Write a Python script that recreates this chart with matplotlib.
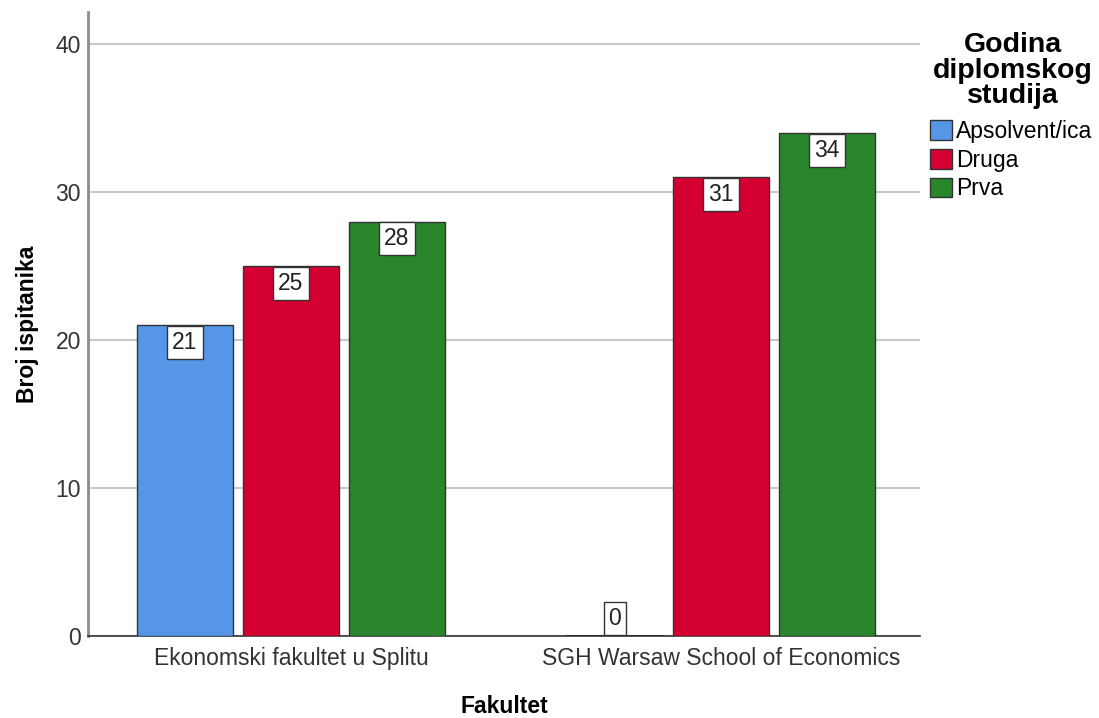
import numpy as np
import matplotlib
matplotlib.use("Agg")
import matplotlib.pyplot as plt

# data
fakulteti = ["Ekonomski fakultet u Splitu", "SGH Warsaw School of Economics"]
godine = ["Apsolvent/ica", "Druga", "Prva"]
apsolvent = [21, 0]
druga = [25, 31]
prva = [28, 34]
boje = ["#5596E6", "#D50032", "#2A862A"]
yticks = [0, 10, 20, 30, 40]
naslov = ["Godina", "diplomskog", "studija"]

plt.rcParams['font.family'] = ['Liberation Sans', 'DejaVu Sans']

W, H = 1099, 718
fig = plt.figure(figsize=(W / 100, H / 100), dpi=100)
ax = fig.add_axes([88 / W, 1 - 636 / H, (920 - 88) / W, (636 - 12) / H])

x = np.arange(len(fakulteti))
step = 0.2465
width = 0.2233
series = [apsolvent, druga, prva]
box = dict(boxstyle="square,pad=0.22", fc="white", ec="#333333", lw=1.0)

for i, (vals, name, c) in enumerate(zip(series, godine, boje)):
    pos = x + (i - 1) * step
    ax.bar(pos, vals, width, color=c, edgecolor="#333333", linewidth=1.0,
           label=name, zorder=3)
    for px, v in zip(pos, vals):
        if v > 0:
            ax.annotate(str(v), (px, v), xytext=(0, -4.2), textcoords="offset points",
                        ha="center", va="top", fontsize=16.5, color="#222222",
                        zorder=5, bbox=box)
        else:
            # empty category: just a flat line on the baseline
            ax.plot([px - width / 2, px + width / 2], [0, 0], color="#222222",
                    lw=1.2, zorder=4)
            ax.annotate(str(v), (px, v), xytext=(0, 4.2), textcoords="offset points",
                        ha="center", va="bottom", fontsize=16.5, color="#222222",
                        zorder=5, bbox=box)

ax.set_xlim(-0.472, 1.463)
ax.set_ylim(0, 42.16)
ax.set_yticks(yticks)
ax.set_xticks(x)
ax.set_xticklabels(fakulteti)
ax.tick_params(axis="both", length=0, labelsize=16.5, labelcolor="#333333")
ax.tick_params(axis="y", pad=5)
ax.tick_params(axis="x", pad=8)

ax.grid(axis="y", color="#c8c8c8", lw=1.5, zorder=0)
ax.set_axisbelow(True)
for s in ["top", "right"]:
    ax.spines[s].set_visible(False)
ax.spines["left"].set_color("#8c8c8c")
ax.spines["left"].set_linewidth(2)
ax.spines["bottom"].set_color("#333333")
ax.spines["bottom"].set_linewidth(1.2)

ax.set_ylabel("Broj ispitanika", fontsize=16.5, fontweight="bold", labelpad=12)
ax.set_xlabel("Fakultet", fontsize=16.5, fontweight="bold", labelpad=18)

# legend title drawn line by line, centred over the entries
for line, base in zip(naslov, [52, 78, 103]):
    fig.text(1013 / W, 1 - base / H, line, ha="center", va="baseline",
             fontsize=20.5, fontweight="bold", color="black")

fig.legend(loc="upper left", bbox_to_anchor=(930 / W, 1 - 120 / H),
           frameon=False, fontsize=16.5,
           handlelength=0.95, handleheight=0.95, handletextpad=0.2,
           labelspacing=0.25, borderpad=0, borderaxespad=0)

fig.savefig("out.png", dpi=100)
